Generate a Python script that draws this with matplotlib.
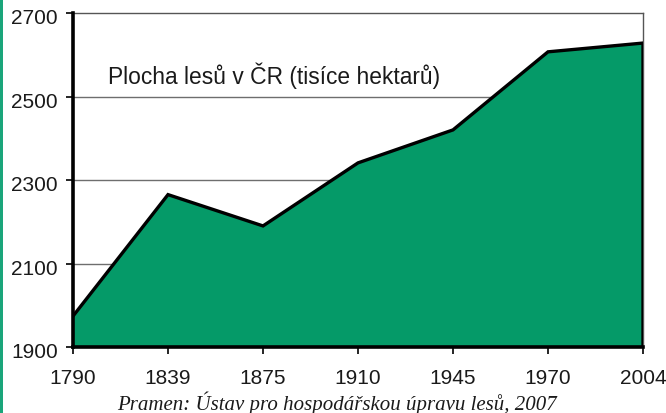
import matplotlib
matplotlib.use("Agg")
import matplotlib.pyplot as plt
from matplotlib.patches import Rectangle
from matplotlib.transforms import ScaledTranslation

years = ["1790", "1839", "1875", "1910", "1945", "1970", "2004"]
area = [1974, 2265, 2190, 2341, 2420, 2607, 2628]
y_ticks = [1900, 2100, 2300, 2500, 2700]

FILL = "#059a68"
STRIP = "#1aa57a"

plt.rcParams["font.family"] = ["Liberation Sans", "DejaVu Sans"]

fig = plt.figure(figsize=(6.66, 4.14), dpi=100, facecolor="white")
ax = fig.add_axes([73 / 666, 1 - 348 / 414, 570 / 666, 334 / 414])

x = list(range(len(years)))
ax.fill_between(x, 1900, area, facecolor=FILL, edgecolor="none", zorder=2)
ax.plot(x + [x[-1]], area + [1900], color="black", lw=2.4, zorder=3,
        solid_joinstyle="miter")

ax.set_xlim(0, len(years) - 1)
ax.set_ylim(1900, 2700)
ax.set_xticks(x)
ax.set_xticklabels(years)
ax.set_yticks(y_ticks)
for yv in y_ticks[1:-1]:
    ax.axhline(yv, color="#6e6e6e", lw=1.0, zorder=1)

ax.tick_params(axis="both", labelsize=15, length=5, width=1.2, color="black",
               labelcolor="#1a1a1a", direction="out")
ax.tick_params(axis="x", pad=10)
ax.tick_params(axis="y", pad=6)
shift = ScaledTranslation(0, -5 / 100, fig.dpi_scale_trans)
for lab in ax.get_yticklabels():
    lab.set_verticalalignment("center")
    lab.set_transform(lab.get_transform() + shift)

for side in ("left", "bottom"):
    ax.spines[side].set_linewidth(2.6)
    ax.spines[side].set_color("black")
    ax.spines[side].set_zorder(4)
for side in ("top", "right"):
    ax.spines[side].set_linewidth(1.0)
    ax.spines[side].set_color("#555555")

ax.text(0.062, 0.815, "Plocha lesů v ČR (tisíce hektarů)", transform=ax.transAxes,
        fontsize=16.4, color="#1a1a1a", ha="left", va="center")

fig.text(0.506, 0.027, "Pramen: Ústav pro hospodářskou úpravu lesů, 2007",
         fontsize=15, family=["Liberation Serif", "DejaVu Serif"], style="italic",
         color="#1a1a1a", ha="center", va="center")

fig.patches.append(Rectangle((0, 0), 2.5 / 666, 1, transform=fig.transFigure,
                             facecolor=STRIP, edgecolor="none"))

fig.savefig("out.png", dpi=100, facecolor="white")
